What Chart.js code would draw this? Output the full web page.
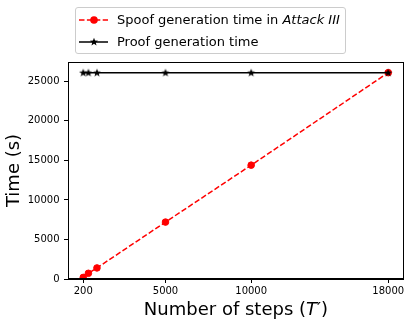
<!DOCTYPE html>
<html>
<head>
<meta charset="utf-8">
<script src="https://cdn.jsdelivr.net/npm/chart.js@4"></script>
<style>
  html, body { margin: 0; padding: 0; background: #fff; }
  #wrap { position: relative; width: 410px; height: 330px; overflow: hidden; }
  #c { position: absolute; left: 0; top: 0; }
  #legend {
    position: absolute; left: 75px; top: 7px; width: 269px; height: 45px;
    border: 1px solid #cccccc; border-radius: 3px; background: rgba(255,255,255,0.8);
    font-family: "DejaVu Sans", sans-serif; font-size: 13px; color: #000;
  }
  .row { position: absolute; left: 0; height: 18px; white-space: nowrap; }
  .row svg { position: absolute; left: 2px; top: 0; }
  .row span { position: absolute; left: 41px; top: 1px; }
  #xlabel {
    position: absolute; left: 68px; width: 336px; top: 298px; text-align: center;
    font-family: "DejaVu Sans", sans-serif; font-size: 18px; color: #000; white-space: nowrap;
  }
</style>
</head>
<body>
<div id="wrap">
  <canvas id="c" width="410" height="330"></canvas>
  <div id="legend">
    <div class="row" style="top:3px;">
      <svg width="32" height="18">
        <line x1="1" y1="9" x2="30" y2="9" stroke="#ff0000" stroke-width="1.5" stroke-dasharray="5.5,2.4"/>
        <circle cx="16" cy="9" r="3.8" fill="#ff0000"/>
      </svg>
      <span>Spoof generation time in <i>Attack III</i></span>
    </div>
    <div class="row" style="top:25px;">
      <svg width="32" height="18">
        <line x1="1" y1="9" x2="30" y2="9" stroke="#000" stroke-width="1.5"/>
        <polygon id="legstar" fill="#000"/>
      </svg>
      <span>Proof generation time</span>
    </div>
  </div>
  <div id="xlabel">Number of steps (<i>T</i>′)</div>
</div>
<script>
// ---- data ----
const steps = [200, 500, 1000, 5000, 10000, 18000];
const spoofTime = [200, 720, 1400, 7200, 14400, 26100];
const proofTime = [26100, 26100, 26100, 26100, 26100, 26100];
const xTickValues = [200, 5000, 10000, 18000];
const yTickValues = [0, 5000, 10000, 15000, 20000, 25000];
const spoofLabel = 'Spoof generation time in Attack III';
const proofLabel = 'Proof generation time';

function starPoints(cx, cy, ro, ri) {
  const pts = [];
  for (let i = 0; i < 10; i++) {
    const r = i % 2 === 0 ? ro : ri;
    const a = -Math.PI / 2 + i * Math.PI / 5;
    pts.push([cx + r * Math.cos(a), cy + r * Math.sin(a)]);
  }
  return pts;
}
document.getElementById('legstar').setAttribute('points',
  starPoints(16, 9, 4.3, 1.8).map(p => p.join(',')).join(' '));

const starCanvas = document.createElement('canvas');
starCanvas.width = 10; starCanvas.height = 10;
(function () {
  const g = starCanvas.getContext('2d');
  g.fillStyle = '#000';
  g.beginPath();
  starPoints(5, 5.3, 4.3, 1.8).forEach((p, i) => i ? g.lineTo(p[0], p[1]) : g.moveTo(p[0], p[1]));
  g.closePath();
  g.fill();
})();

const framePlugin = {
  id: 'frame',
  afterDraw(chart) {
    const a = chart.chartArea, ctx = chart.ctx;
    ctx.save();
    ctx.strokeStyle = '#000';
    ctx.lineWidth = 1;
    ctx.strokeRect(Math.round(a.left) + 0.5, Math.round(a.top) + 0.5,
      Math.round(a.right - a.left) - 1, Math.round(a.bottom - a.top) - 1);
    ctx.restore();
  }
};

const tickFont = { family: 'DejaVu Sans', size: 10 };

new Chart(document.getElementById('c'), {
  type: 'line',
  data: {
    datasets: [
      {
        label: proofLabel,
        data: steps.map((s, i) => ({ x: s, y: proofTime[i] })),
        borderColor: '#000', backgroundColor: '#000', borderWidth: 1.5,
        pointStyle: starCanvas, pointRadius: 5, pointHoverRadius: 5,
        fill: false, tension: 0, order: 0
      },
      {
        label: spoofLabel,
        data: steps.map((s, i) => ({ x: s, y: spoofTime[i] })),
        borderColor: '#ff0000', backgroundColor: '#ff0000', borderWidth: 1.5,
        borderDash: [5.5, 2.4],
        pointStyle: 'circle', pointRadius: 3.3, pointBorderWidth: 1,
        pointBorderColor: '#ff0000', pointBackgroundColor: '#ff0000',
        fill: false, tension: 0, order: 1
      }
    ]
  },
  options: {
    responsive: false,
    animation: false,
    layout: { padding: { top: 62, right: 6, left: 0, bottom: 0 } },
    plugins: { legend: { display: false }, tooltip: { enabled: false } },
    scales: {
      x: {
        type: 'linear', min: -690, max: 18890,
        afterFit(s) { s.height = 51; },
        afterBuildTicks(s) { s.ticks = xTickValues.map(v => ({ value: v })); },
        grid: { display: true, drawOnChartArea: false, drawTicks: true, tickLength: 4, color: '#000', lineWidth: 1 },
        border: { display: true, color: '#000', width: 1 },
        ticks: { color: '#000', font: tickFont, padding: 2.5, maxRotation: 0, autoSkip: false, callback: v => String(v) }
      },
      y: {
        type: 'linear', min: 0, max: 27450,
        afterFit(s) { s.width = 68; },
        afterBuildTicks(s) { s.ticks = yTickValues.map(v => ({ value: v })); },
        grid: { display: true, drawOnChartArea: false, drawTicks: true, tickLength: 4, color: '#000', lineWidth: 1 },
        border: { display: true, color: '#000', width: 1 },
        ticks: { color: '#000', font: tickFont, padding: 4.5, autoSkip: false, callback: v => String(v) },
        title: { display: true, text: 'Time (s)', color: '#000', font: { family: 'DejaVu Sans', size: 18 }, padding: { top: 4, bottom: 4 } }
      }
    }
  },
  plugins: [framePlugin]
});
</script>
</body>
</html>
